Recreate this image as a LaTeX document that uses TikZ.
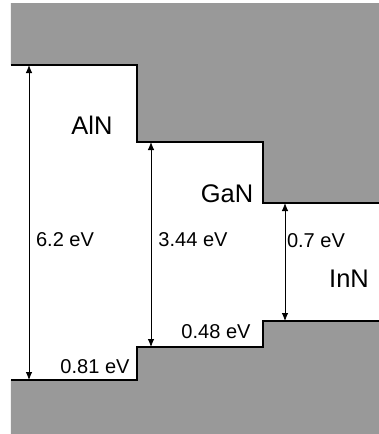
\documentclass[tikz,border=0pt]{standalone}
\usepackage{fontspec}
\setmainfont{Liberation Sans}
\definecolor{BandGray}{RGB}{153,153,153}
\usetikzlibrary{arrows.meta}

\begin{document}
\begin{tikzpicture}[x=0.02cm, y=-0.02cm,
	edge/.style={line width=0.9pt, black},
	gap/.style={{Latex[length=1.6mm,width=1.3mm]}-{Latex[length=1.6mm,width=1.3mm]}, line width=0.5pt},
	mat/.style={font=\fontsize{14.5}{16}\selectfont, inner sep=0pt},
	val/.style={font=\fontsize{11.4}{13}\selectfont, inner sep=0pt}]
	\useasboundingbox (0,0) rectangle (379,434);
	% bands
	\fill[BandGray] (11,3) -- (379,3) -- (379,203) -- (263,203) -- (263,142) -- (137,142) -- (137,65) -- (11,65) -- cycle;
	\fill[BandGray] (11,434) -- (11,380) -- (137,380) -- (137,347) -- (263,347) -- (263,321) -- (379,321) -- (379,434) -- cycle;
	\draw[edge] (11,65) -- (137,65) -- (137,142) -- (263,142) -- (263,203) -- (379,203);
	\draw[edge] (11,380) -- (137,380) -- (137,347) -- (263,347) -- (263,321) -- (379,321);
	% band edges
	\coordinate (AlNc) at (29,65);  \coordinate (AlNv) at (29,380);
	\coordinate (GaNc) at (151,142); \coordinate (GaNv) at (151,347);
	\coordinate (InNc) at (285,203); \coordinate (InNv) at (285,321);
	\draw[gap] (AlNc) -- (AlNv);
	\draw[gap] (GaNc) -- (GaNv);
	\draw[gap] (InNc) -- (InNv);
	% labels
	\node[mat] (AlN) at (92,125) {AlN};
	\node[mat] (GaN) at (227,194) {GaN};
	\node[mat] (InN) at (349,279) {InN};
	\node[val] (gAlN) at (65,240) {6.2 eV};
	\node[val] (gGaN) at (193,240) {3.44 eV};
	\node[val] (gInN) at (316,241) {0.7 eV};
	\node[val] (oAlN) at (95,367) {0.81 eV};
	\node[val] (oGaN) at (216,332) {0.48 eV};
\end{tikzpicture}
\end{document}
